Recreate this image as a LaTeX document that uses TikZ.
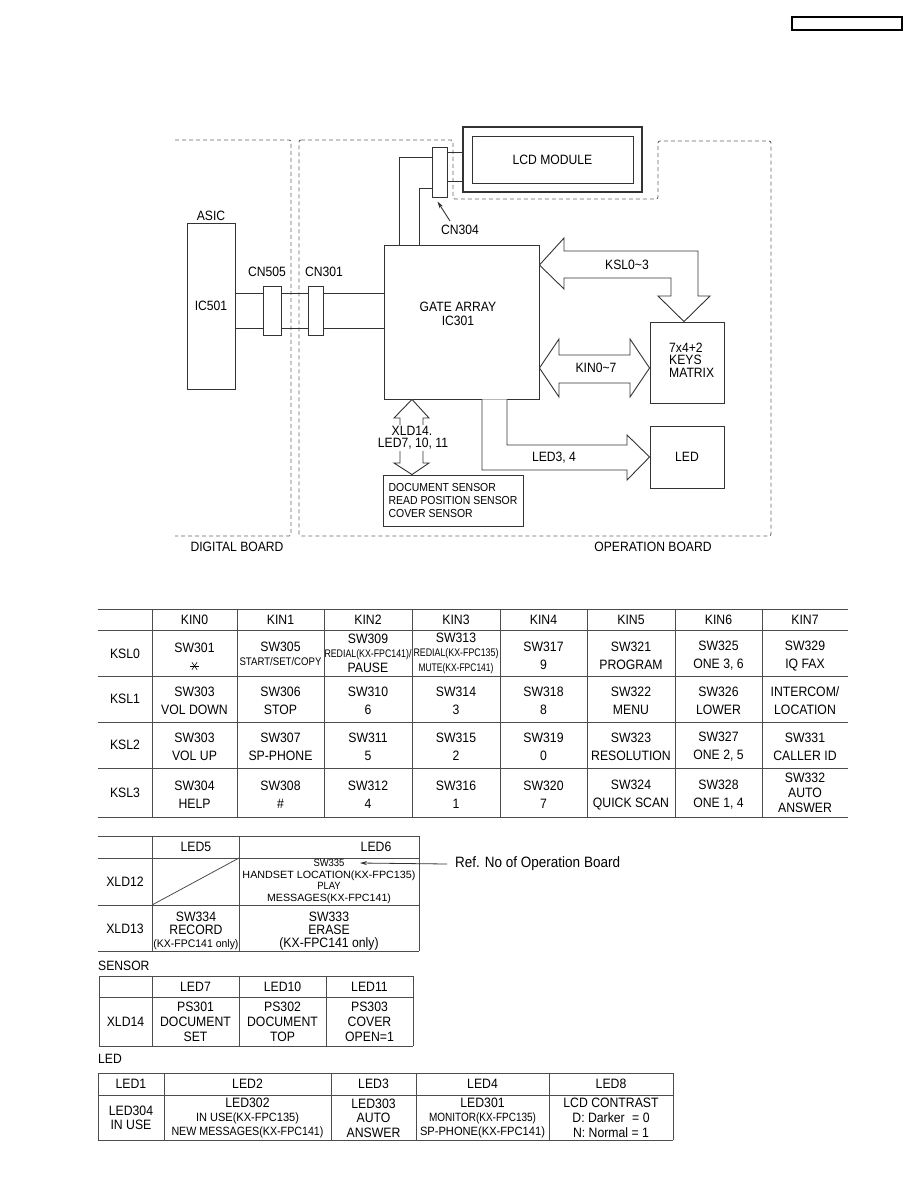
\documentclass[tikz,border=0pt]{standalone}
\usepackage{fontspec}
\setmainfont{Liberation Sans}[FakeStretch=0.9]
\usepackage{graphicx}
\usetikzlibrary{arrows.meta}

% squeeze a text to a given width: size, width, text
\newcommand{\squeeze}[3]{{\fontsize{#1}{#1}\selectfont\resizebox{#2pt}{\height}{#3}}}

\tikzset{
  box/.style={draw=black!80, line width=0.9pt, inner sep=0pt},
  wire/.style={draw=black!80, line width=0.9pt},
  board/.style={draw=black!60, line width=0.9pt, dash pattern=on 4pt off 3pt, rounded corners=2pt},
  hollow/.style={draw=black!80, line width=0.9pt, fill=white, line join=miter},
  lbl/.style={font=\fontsize{13.5}{14}\selectfont, inner sep=0pt},
  grid/.style={draw=black!70, line width=0.8pt},
  cell/.style={font=\fontsize{13.6}{18}\selectfont, align=center, inner sep=0pt},
}

\begin{document}
\begin{tikzpicture}[x=1pt,y=-1pt]
    \useasboundingbox (0,0) rectangle (918,1188);

    % page tag
    \node[draw, line width=1.4pt, minimum width=110pt, minimum height=13pt, inner sep=0pt] (tag) at (847,23.5) {};

    % boards
    \draw[board] (175,140) -- (291,140) -- (291,536) -- (175,536);
    \draw[board] (299,140) -- (453,140) -- (453,199) -- (658,199) -- (658,141)
      -- (771,141) -- (771,536) -- (299,536) -- cycle;
    \node[lbl] (digital) at (237,547) {DIGITAL BOARD};
    \node[lbl] (operation) at (653,547) {OPERATION BOARD};

    % blocks
    \node[lbl] (asic) at (211,216) {ASIC};
    \node[box, lbl, minimum width=48pt, minimum height=166pt] (ic501) at (211,306) {IC501};
    \node[box, minimum width=18pt, minimum height=49pt] (cn505) at (272,310.5) {};
    \node[box, minimum width=15pt, minimum height=49pt] (cn301) at (315.5,310.5) {};
    \node[lbl] (cn505lbl) at (267,272) {CN505};
    \node[lbl] (cn301lbl) at (324,272) {CN301};
    \node[box, minimum width=155pt, minimum height=154pt] (gate) at (461.5,322) {};
    \node[lbl, align=center] (gatelbl) at (458,314) {GATE ARRAY\\IC301};
    \node[box, minimum width=15pt, minimum height=50pt] (cn304) at (439.5,172) {};
    \node[lbl] (cn304lbl) at (460,230) {CN304};
    \node[box, line width=1.3pt, minimum width=179pt, minimum height=65pt] (lcdout) at (552.5,159.5) {};
    \node[box, lbl, minimum width=161pt, minimum height=47pt] (lcd) at (552.5,159.5) {LCD MODULE};
    \node[box, minimum width=74pt, minimum height=81pt] (keys) at (687,362.5) {};
    \node[lbl, align=left, anchor=west, font=\fontsize{13.5}{12.5}\selectfont] (keyslbl) at (669,360) {7x4+2\\KEYS\\MATRIX};
    \node[box, lbl, minimum width=74pt, minimum height=62pt] (led) at (687,457) {LED};
    \node[box, minimum width=140pt, minimum height=51pt, align=left,
      font=\fontsize{11.6}{13}\selectfont] (sensor) at (453,500.5)
      {DOCUMENT SENSOR\\READ POSITION SENSOR\\COVER SENSOR};

    % wires
    \foreach \y in {293,328} {
      \draw[wire] (ic501.east |- 0,\y) -- (cn505.west |- 0,\y);
      \draw[wire] (cn505.east |- 0,\y) -- (cn301.west |- 0,\y);
      \draw[wire] (cn301.east |- 0,\y) -- (gate.west |- 0,\y);
    }
    \draw[wire] (gate.north -| 399,0) |- (cn304.west |- 0,157);
    \draw[wire] (gate.north -| 419,0) |- (cn304.west |- 0,188);
    \draw[wire] (cn304.east |- 0,152) -- (lcdout.west |- 0,152);
    \draw[wire] (cn304.east |- 0,181) -- (lcdout.west |- 0,181);
    \draw[wire, -{Stealth[length=7pt,width=4pt]}] ([shift={(-10,-4)}]cn304lbl.north) -- ([shift={(-2,4)}]cn304.south);

    % bus arrows
    \draw[hollow] (gate.east |- 0,265) -- (564,238) -- (564,251) -- (698,251) -- (698,296) -- (710,296)
      -- (keys.north -| 684,0) -- (658,296) -- (671,296) -- (671,278) -- (564,278) -- (564,289) -- cycle;
    \node[lbl] (ksl) at (627,265) {KSL0\textasciitilde 3};
    \draw[hollow] (gate.east |- 0,368) -- (559,339) -- (559,355) -- (630,355) -- (630,339)
      -- (keys.west |- 0,368) -- (630,397) -- (630,383) -- (559,383) -- (559,397) -- cycle;
    \node[lbl] (kin) at (596,368) {KIN0\textasciitilde 7};
    \draw[hollow] (gate.south -| 482,0) -- (482,470) -- (627,470) -- (627,480) -- (led.west)
      -- (627,435) -- (627,445) -- (507,445) -- (gate.south -| 507,0);
    \node[lbl] (ledbus) at (554,458) {LED3, 4};
    \draw[hollow] (gate.south -| 412,0) -- (429,418) -- (423,418) -- (423,463) -- (429,463)
      -- (sensor.north -| 412,0) -- (394,463) -- (400,463) -- (400,418) -- (394,418) -- cycle;
    \node[lbl, fill=white, inner sep=1pt] (xld) at (412,431) {XLD14.};
    \node[lbl, fill=white, inner sep=1pt] (xldled) at (413,444) {LED7, 10, 11};

    % key matrix table
    \foreach \y in {609,630,676,722,768,817} \draw[grid] (98,\y) -- (848,\y);
    \foreach \x in {152,237,324,412,500,587,675,762} \draw[grid] (\x,609) -- (\x,817);
    \foreach \x [count=\i from 0] in {194.5,280.5,368,456,543.5,631,718.5,805}
      \node[cell] (kin\i) at (\x,620) {KIN\i};
    \foreach \y [count=\i from 0] in {653.5,699,745,792.5}
      \node[cell] (ksl\i) at (125,\y) {KSL\i};

    \node[cell] (c00) at (194.5,648) {SW301};
    \coordinate (star) at (194.5,666);
    \foreach \a in {0,55,125} \draw[line width=0.6pt] (star) ++(\a:4.5) -- ++(\a+180:9);
    \node[cell] (c01) at (280.5,654) {SW305\\[-4pt]\squeeze{11}{82}{START/SET/COPY}};
    \node[cell] (c02) at (368,653) {SW309\\[-3.5pt]\squeeze{11}{87}{REDIAL(KX-FPC141)/}\\[-3.5pt]PAUSE};
    \node[cell] (c03) at (456,653) {SW313\\[-3.5pt]\squeeze{11}{85}{REDIAL(KX-FPC135)}\\[-3.5pt]\squeeze{11}{75}{MUTE(KX-FPC141)}};
    \node[cell] (c04) at (543.5,656) {SW317\\9};
    \node[cell] (c05) at (631,656) {SW321\\PROGRAM};
    \node[cell] (c06) at (718.5,656) {SW325\\ONE 3, 6};
    \node[cell] (c07) at (805,656) {SW329\\IQ FAX};

    \node[cell] (c10) at (194.5,701) {SW303\\VOL DOWN};
    \node[cell] (c11) at (280.5,701) {SW306\\STOP};
    \node[cell] (c12) at (368,701) {SW310\\6};
    \node[cell] (c13) at (456,701) {SW314\\3};
    \node[cell] (c14) at (543.5,701) {SW318\\8};
    \node[cell] (c15) at (631,701) {SW322\\MENU};
    \node[cell] (c16) at (718.5,701) {SW326\\LOWER};
    \node[cell] (c17) at (805,701) {INTERCOM/\\LOCATION};

    \node[cell] (c20) at (194.5,747) {SW303\\VOL UP};
    \node[cell] (c21) at (280.5,747) {SW307\\SP-PHONE};
    \node[cell] (c22) at (368,747) {SW311\\5};
    \node[cell] (c23) at (456,747) {SW315\\2};
    \node[cell] (c24) at (543.5,747) {SW319\\0};
    \node[cell] (c25) at (631,747) {SW323\\RESOLUTION};
    \node[cell] (c26) at (718.5,747) {SW327\\ONE 2, 5};
    \node[cell] (c27) at (805,747) {SW331\\CALLER ID};

    \node[cell] (c30) at (194.5,795) {SW304\\HELP};
    \node[cell] (c31) at (280.5,795) {SW308\\\#};
    \node[cell] (c32) at (368,795) {SW312\\4};
    \node[cell] (c33) at (456,795) {SW316\\1};
    \node[cell] (c34) at (543.5,795) {SW320\\7};
    \node[cell] (c35) at (631,795) {SW324\\QUICK SCAN};
    \node[cell] (c36) at (718.5,795) {SW328\\ONE 1, 4};
    \node[cell] (c37) at (805,793) {SW332\\[-3pt]AUTO\\[-3pt]ANSWER};

    % xld table
    \foreach \y in {836,858,905,951} \draw[grid] (98,\y) -- (419,\y);
    \foreach \x in {152,239,419} \draw[grid] (\x,836) -- (\x,951);
    \draw[grid] (152,905) -- (239,858);
    \node[cell] (led5) at (196,847) {LED5};
    \node[cell] (led6) at (376,847) {LED6};
    \node[cell] (xld12) at (125,881.5) {XLD12};
    \node[cell] (xld13) at (125,929) {XLD13};
    \node[cell, font=\fontsize{10.5}{11.5}\selectfont] (d12) at (329,881.5)
      {SW335\\\squeeze{10.5}{173}{HANDSET LOCATION(KX-FPC135)}\\PLAY\\\squeeze{10.5}{124}{MESSAGES(KX-FPC141)}};
    \node[cell] (d13a) at (196,931) {SW334\\[-5pt]RECORD\\[-5pt]\squeeze{11}{85}{(KX-FPC141 only)}};
    \node[cell] (d13b) at (329,931) {SW333\\[-5pt]ERASE\\[-5pt](KX-FPC141 only)};
    \coordinate (swtip) at (360,863);
    \node[lbl, anchor=west, font=\fontsize{15}{15}\selectfont] (refnote) at (455,864) {Ref. No of Operation Board};
    \draw[wire, line width=0.8pt, -{Stealth[length=7pt,width=4pt]}] (refnote.west) ++(-8,0) -- (swtip);

    % sensor table
    \node[lbl, anchor=west] (sensorttl) at (98,966) {SENSOR};
    \foreach \y in {976,997,1046} \draw[grid] (99,\y) -- (413,\y);
    \foreach \x in {99,152,239,326,413} \draw[grid] (\x,976) -- (\x,1046);
    \foreach \x/\t in {195.5/LED7,282.5/LED10,369.5/LED11}
      \node[cell] (h\t) at (\x,986.5) {\t};
    \node[cell] (xld14) at (125.5,1021.5) {XLD14};
    \node[cell] (ps301) at (195.5,1022) {PS301\\[-3pt]DOCUMENT\\[-3pt]SET};
    \node[cell] (ps302) at (282.5,1022) {PS302\\[-3pt]DOCUMENT\\[-3pt]TOP};
    \node[cell] (ps303) at (369.5,1022) {PS303\\[-3pt]COVER\\[-3pt]OPEN=1};

    % led table
    \node[lbl, anchor=west] (ledttl) at (98,1059) {LED};
    \foreach \y in {1073,1095,1140} \draw[grid] (98,\y) -- (673,\y);
    \foreach \x in {98,164,331,416,549,673} \draw[grid] (\x,1073) -- (\x,1140);
    \foreach \x/\t in {131/LED1,247.5/LED2,373.5/LED3,482.5/LED4,611/LED8}
      \node[cell] (h\t) at (\x,1084) {\t};
    \node[cell] (led304) at (131,1118) {LED304\\[-4pt]IN USE};
    \node[cell] (led302) at (247.5,1118) {LED302\\[-4pt]\squeeze{12}{103}{IN USE(KX-FPC135)}\\[-4pt]\squeeze{12}{152}{NEW MESSAGES(KX-FPC141)}};
    \node[cell] (led303) at (373.5,1118) {LED303\\[-3.5pt]AUTO\\[-3.5pt]ANSWER};
    \node[cell] (led301) at (482.5,1118) {LED301\\[-4pt]\squeeze{12}{107}{MONITOR(KX-FPC135)}\\[-4pt]\squeeze{12}{125}{SP-PHONE(KX-FPC141)}};
    \node[cell] (contrast) at (611,1118) {LCD CONTRAST\\[-3pt]D: Darker\hspace{4pt} = 0\\[-3pt]N: Normal = 1};
\end{tikzpicture}
\end{document}
